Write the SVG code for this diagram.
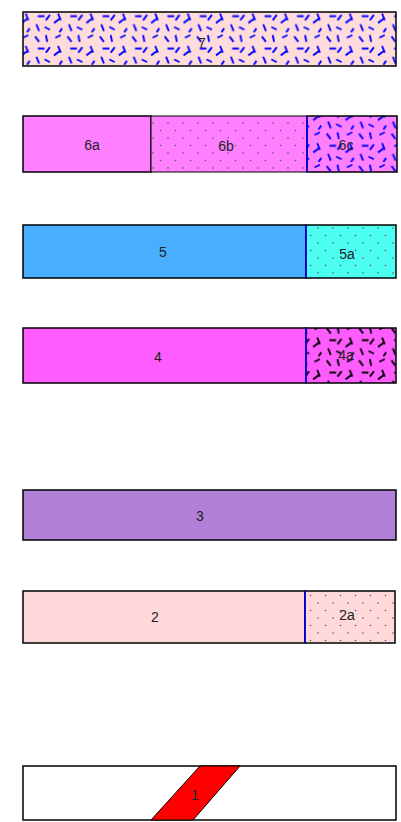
<svg xmlns="http://www.w3.org/2000/svg" width="401" height="822" viewBox="0 0 401 822">
<style>
.box{stroke:#000;stroke-width:1.5}
.lbl{font-family:"Liberation Sans",Arial,sans-serif;font-size:14px;fill:#222;text-anchor:middle;dominant-baseline:central}
.div{stroke:#0000ff;stroke-width:1.5}
</style>
<defs>
<pattern id="dots" width="15" height="15" patternUnits="userSpaceOnUse">
<circle cx="3" cy="3" r="0.8" fill="#555"/><circle cx="10.5" cy="10.5" r="0.8" fill="#555"/>
</pattern>
<g id="conf">
<path d="M2 3l3 4M10 2l1 5M17 4l4-2M4 12l5 0M13 11l-3 4M19 10l2 5M3 18l2 5M9 20l4 2M16 17l4-3M22 21l-2 3"/>
</g>
<pattern id="confB" width="24" height="24" patternUnits="userSpaceOnUse" patternTransform="scale(1.35)">
<use href="#conf" stroke="#0000ff" stroke-width="1.4"/>
</pattern>
<pattern id="confK" width="24" height="24" patternUnits="userSpaceOnUse" patternTransform="scale(1.35)">
<use href="#conf" stroke="#000" stroke-width="1.4"/>
</pattern>
</defs>

<g id="unit7">
<rect x="23" y="12" width="373" height="54" fill="#ffdcdc"/>
<rect x="23" y="12" width="373" height="54" fill="url(#confB)" class="box"/>
<text class="lbl" x="202" y="43">7</text>
</g>

<g id="unit6">
<rect x="23" y="116" width="128" height="56" fill="#ff80ff" class="box"/>
<text class="lbl" x="92" y="145">6a</text>
<g id="unit6b">
<rect x="151" y="116" width="156" height="56" fill="#ff80ff"/>
<rect x="151" y="116" width="156" height="56" fill="url(#dots)" stroke="#000" stroke-width="1"/>
<text class="lbl" x="226" y="146">6b</text>
</g>
<g id="unit6c">
<rect x="307" y="116" width="90" height="56" fill="#ff80ff"/>
<rect x="307" y="116" width="90" height="56" fill="url(#confB)" class="box"/>
<line x1="307" y1="116" x2="307" y2="172" class="div"/>
<text class="lbl" x="346" y="145">6c</text>
</g>
</g>

<g id="unit5">
<rect x="23" y="225" width="283" height="53" fill="#4aaeff" class="box"/>
<text class="lbl" x="163" y="252">5</text>
<g id="unit5a">
<rect x="306" y="225" width="90" height="53" fill="#4cfff2"/>
<rect x="306" y="225" width="90" height="53" fill="url(#dots)" class="box"/>
<line x1="306" y1="225" x2="306" y2="278" class="div"/>
<text class="lbl" x="347" y="254">5a</text>
</g>
</g>

<g id="unit4">
<rect x="23" y="328" width="283" height="55" fill="#ff5cff" class="box"/>
<text class="lbl" x="158" y="357">4</text>
<g id="unit4a">
<rect x="306" y="328" width="90" height="55" fill="#ff5cff"/>
<rect x="306" y="328" width="90" height="55" fill="url(#confK)" class="box"/>
<line x1="306" y1="328" x2="306" y2="383" class="div"/>
<text class="lbl" x="346" y="355">4a</text>
</g>
</g>

<g id="unit3">
<rect x="23" y="490" width="373" height="50" fill="#b080d8" class="box"/>
<text class="lbl" x="200" y="516">3</text>
</g>

<g id="unit2">
<rect x="23" y="591" width="282" height="52" fill="#ffd9d9" class="box"/>
<text class="lbl" x="155" y="617">2</text>
<g id="unit2a">
<rect x="305" y="591" width="90" height="52" fill="#ffd9d9"/>
<rect x="305" y="591" width="90" height="52" fill="url(#dots)" class="box"/>
<line x1="305" y1="591" x2="305" y2="643" class="div"/>
<text class="lbl" x="347" y="615">2a</text>
</g>
</g>

<g id="unit1">
<rect x="23" y="766" width="373" height="54" fill="#fff" class="box"/>
<polygon points="200,766 240,766 193,820 151,820" fill="#ff0000" stroke="#000" stroke-width="1"/>
<text class="lbl" x="195" y="795">1</text>
</g>
</svg>
